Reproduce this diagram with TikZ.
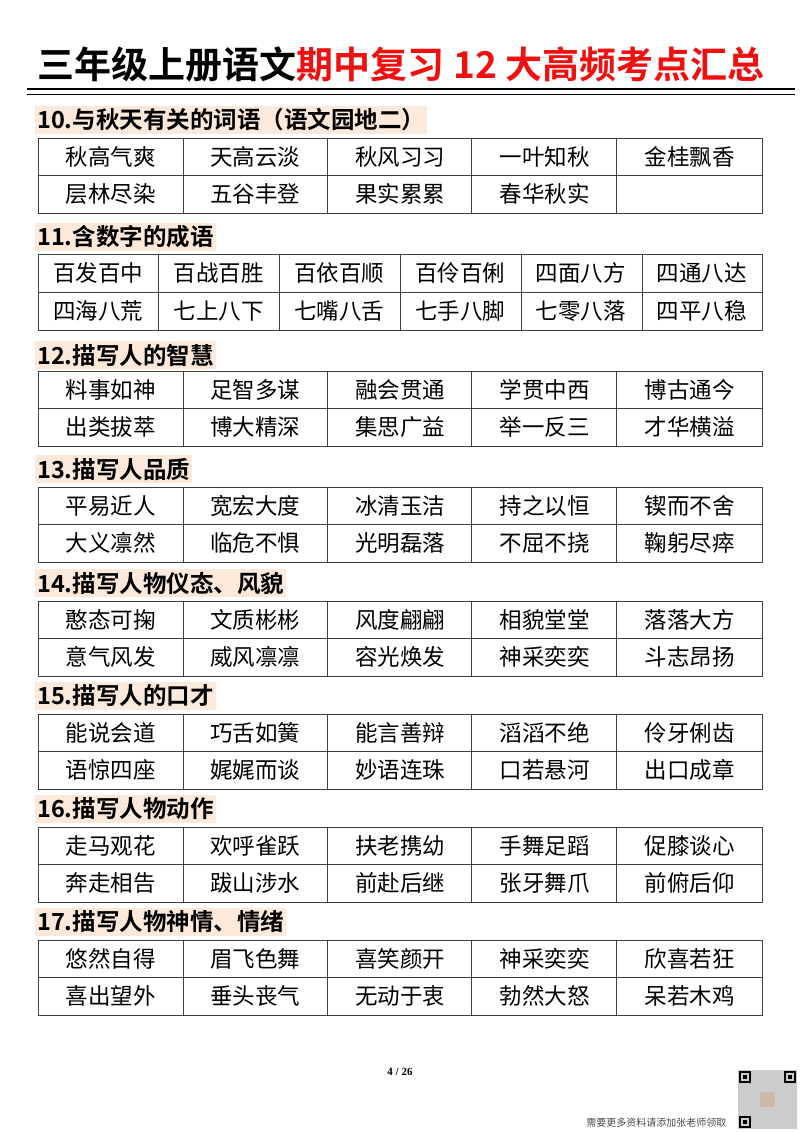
\documentclass[tikz,border=0pt]{standalone}
\usepackage{fontspec}
\setmainfont{Noto Sans CJK SC}
\newfontfamily\cjkb{Noto Sans CJK SC Bold}
\newfontfamily\serifx{Liberation Serif}
\definecolor{hl}{HTML}{FCE9DA}
\definecolor{tr}{HTML}{F01010}
\tikzset{
 cell/.style={font=\fontsize{22.5}{24}\selectfont, anchor=center},
 hdr/.style={font=\cjkb\fontsize{23.5}{26}\selectfont, anchor=west, fill=hl, inner xsep=2pt, inner ysep=3pt},
 grid/.style={draw=black!75, line width=0.8pt}
}
\begin{document}
\begin{tikzpicture}[x=1pt,y=-1pt]
\useasboundingbox (0,0) rectangle (800,1132);
\node[font=\cjkb\fontsize{37}{40}\selectfont, anchor=center] (title) at (401,64) {三年级上册语文\textcolor{tr}{期中复习 12 大高频考点汇总}};
\draw[line width=1.6pt] (27,89) -- (795,89);
\draw[line width=0.8pt] (27,94) -- (795,94);
\foreach \n/\hy/\ty/\hdtext/\ra/\rb in {
 10/120/138/{10.与秋天有关的词语（语文园地二）}/{秋高气爽,天高云淡,秋风习习,一叶知秋,金桂飘香}/{层林尽染,五谷丰登,果实累累,春华秋实,{}},
 12/355/371/{12.描写人的智慧}/{料事如神,足智多谋,融会贯通,学贯中西,博古通今}/{出类拔萃,博大精深,集思广益,举一反三,才华横溢},
 13/469/487/{13.描写人品质}/{平易近人,宽宏大度,冰清玉洁,持之以恒,锲而不舍}/{大义凛然,临危不惧,光明磊落,不屈不挠,鞠躬尽瘁},
 14/583/601/{14.描写人物仪态、风貌}/{憨态可掬,文质彬彬,风度翩翩,相貌堂堂,落落大方}/{意气风发,威风凛凛,容光焕发,神采奕奕,斗志昂扬},
 15/696/714/{15.描写人的口才}/{能说会道,巧舌如簧,能言善辩,滔滔不绝,伶牙俐齿}/{语惊四座,娓娓而谈,妙语连珠,口若悬河,出口成章},
 16/809/827/{16.描写人物动作}/{走马观花,欢呼雀跃,扶老携幼,手舞足蹈,促膝谈心}/{奔走相告,跋山涉水,前赴后继,张牙舞爪,前俯后仰},
 17/922/940/{17.描写人物神情、情绪}/{悠然自得,眉飞色舞,喜笑颜开,神采奕奕,欣喜若狂}/{喜出望外,垂头丧气,无动于衷,勃然大怒,呆若木鸡}}{
 \node[hdr] (h\n) at (35,\hy) {\hdtext};
 \draw[grid] (38,\ty) rectangle (762,\ty+75);
 \draw[grid] (38,\ty+37.5) -- (762,\ty+37.5);
 \foreach \cx in {183,327,471,616} \draw[grid] (\cx,\ty) -- (\cx,\ty+75);
 \foreach \w [count=\i from 0] in \ra \node[cell] (a\n-\i) at (110.5+144.8*\i,\ty+18.75) {\w};
 \foreach \w [count=\i from 0] in \rb \node[cell] (b\n-\i) at (110.5+144.8*\i,\ty+56.25) {\w};
}
\node[hdr] (h11) at (35,237) {11.含数字的成语};
\draw[grid] (38,254) rectangle (762,330);
\draw[grid] (38,292) -- (762,292);
\foreach \cx in {158,279,400,521,642} \draw[grid] (\cx,254) -- (\cx,330);
\foreach \w [count=\i from 0] in {百发百中,百战百胜,百依百顺,百伶百俐,四面八方,四通八达}
 \node[cell] (a11-\i) at (98+120.7*\i,273) {\w};
\foreach \w [count=\i from 0] in {四海八荒,七上八下,七嘴八舌,七手八脚,七零八落,四平八稳}
 \node[cell] (b11-\i) at (98+120.7*\i,311) {\w};
\node[font=\serifx\bfseries\fontsize{11}{12}\selectfont] (pg) at (400,1072) {4 / 26};
\node[font=\fontsize{10}{11}\selectfont, text=black!70, anchor=east] (ft) at (730,1123) {需要更多资料请添加张老师领取};
\fill[black!20] (738,1070) rectangle (797,1129);
\foreach \qx/\qy in {738/1070,783/1070,738/1115}{
 \draw[line width=2pt] (\qx+2,\qy+2) rectangle (\qx+12,\qy+12);
 \fill (\qx+5,\qy+5) rectangle (\qx+9,\qy+9);}
\fill[black!35!brown!40] (760,1092) rectangle (775,1107);
\end{tikzpicture}
\end{document}
